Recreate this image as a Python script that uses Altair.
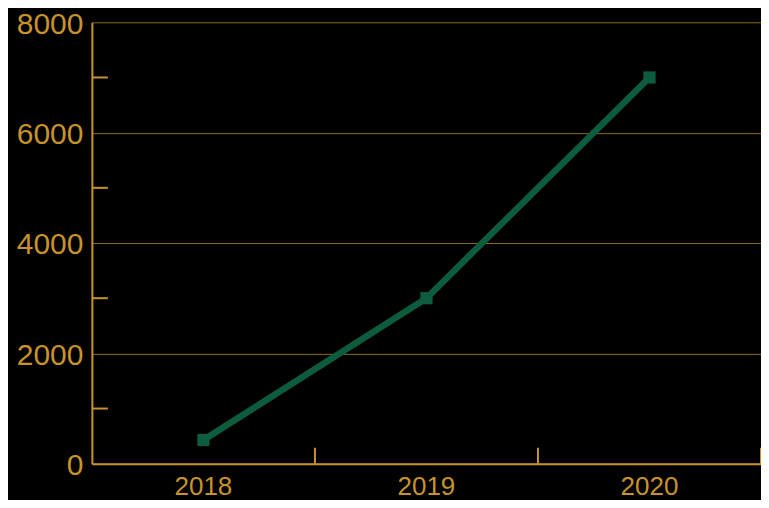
import altair as alt
import pandas as pd

years = ["2018", "2019", "2020"]
values = [430, 3000, 7000]
major_ticks = [0, 2000, 4000, 6000, 8000]
minor_ticks = [1000, 3000, 5000, 7000]

GOLD = "#c8932b"
GRID = "#8f6a1f"
GREEN = "#0e5c3e"

df = pd.DataFrame({"year": years, "value": values})
minor_df = pd.DataFrame({"v": minor_ticks})
year_df = pd.DataFrame({"year": years})

xscale = alt.Scale(type="band", domain=years, paddingInner=0, paddingOuter=0)
yscale = alt.Scale(domain=[0, 8000], nice=False)

x_enc = alt.X("year:N", scale=xscale, sort=years, title=None,
              axis=alt.Axis(labelAngle=0, ticks=False, domainColor=GOLD, domainWidth=2,
                            labelColor=GOLD, labelFontSize=26, labelPadding=10,
                            labelFont="Liberation Sans", grid=False))
y_enc = alt.Y("value:Q", scale=yscale, title=None,
              axis=alt.Axis(values=major_ticks, format="d", ticks=False, domainColor=GOLD,
                            domainWidth=2, labelColor=GOLD, labelFontSize=30, labelPadding=9,
                            labelOffset=2, labelFont="Liberation Sans", grid=True,
                            gridColor=GRID, gridWidth=1))

line = alt.Chart(df).mark_line(color=GREEN, strokeWidth=6.5).encode(x=x_enc, y=y_enc)
pts = alt.Chart(df).mark_square(color=GREEN, size=150, opacity=1, filled=True).encode(
    x=alt.X("year:N", scale=xscale, sort=years), y=alt.Y("value:Q", scale=yscale))

minor = alt.Chart(minor_df).mark_rule(color=GOLD, strokeWidth=2).encode(
    y=alt.Y("v:Q", scale=yscale), x=alt.value(0), x2=alt.value(16))

xticks = alt.Chart(year_df).mark_rule(color=GOLD, strokeWidth=2).encode(
    x=alt.X("year:N", scale=xscale, sort=years, bandPosition=1),
    y=alt.value(442), y2=alt.value(426))

chart = alt.layer(line, minor, xticks, pts).properties(
    width=670, height=442,
    background="black",
    autosize=alt.AutoSizeParams(type="none"),
    padding={"left": 84, "top": 14, "right": 0, "bottom": 36},
).configure_view(stroke=None)

chart.save("out.html", embed_options={"renderer": "svg", "actions": False})
